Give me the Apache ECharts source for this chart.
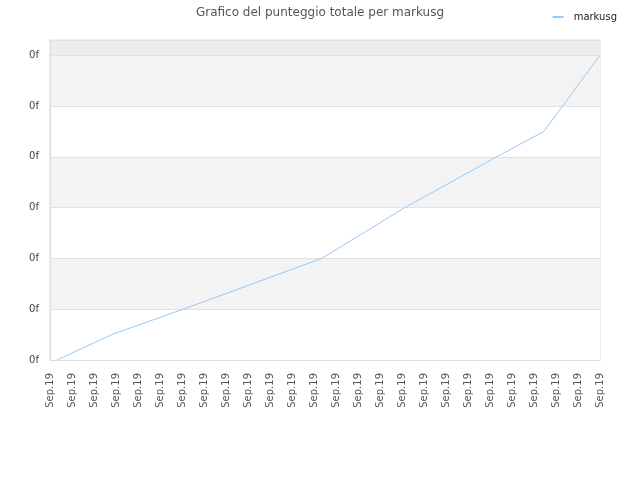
<!DOCTYPE html>
<html>
<head>
<meta charset="utf-8">
<script src="https://cdn.jsdelivr.net/npm/echarts@6/dist/echarts.min.js"></script>
<style>html,body{margin:0;padding:0;background:#fff}#c{width:640px;height:480px}</style>
</head>
<body>
<div id="c"></div>
<script>
// x positions of points (in tick units along the date axis) and total score values
var xPos   = [0.32, 2.86, 6.05, 12.36, 16.05, 20.3, 22.45, 25];
var scores = [0,    0.51, 1.0,  2.0,   2.98,  4.0,  4.5,   6.0];
var tickLabels = ['Sep.19','Sep.19','Sep.19','Sep.19','Sep.19','Sep.19','Sep.19','Sep.19','Sep.19','Sep.19',
                  'Sep.19','Sep.19','Sep.19','Sep.19','Sep.19','Sep.19','Sep.19','Sep.19','Sep.19','Sep.19',
                  'Sep.19','Sep.19','Sep.19','Sep.19','Sep.19','Sep.19'];
var yLabel = '0f';
var seriesName = 'markusg';

var chart = echarts.init(document.getElementById('c'), null, {renderer: 'canvas'});
var font = 'DejaVu Sans';
chart.setOption({
  animation: false,
  backgroundColor: '#fff',
  title: {
    text: 'Grafico del punteggio totale per markusg',
    left: 'center', top: 2,
    textStyle: {fontFamily: font, fontSize: 12, fontWeight: 'normal', color: '#555'}
  },
  legend: {
    right: 18, top: 7,
    icon: 'rect', itemWidth: 11, itemHeight: 2, itemGap: 5,
    textStyle: {fontFamily: font, fontSize: 10, color: '#222', padding: [0, 0, 0, 5]},
    data: [seriesName]
  },
  grid: {left: 50, right: 40, top: 40, bottom: 120, show: true, borderColor: '#ddd', borderWidth: 1},
  xAxis: {
    type: 'value', min: 0, max: 25, interval: 1,
    axisLine: {show: true, lineStyle: {color: '#ddd'}},
    axisTick: {show: false},
    splitLine: {show: false},
    axisLabel: {
      rotate: 90, margin: 13, fontFamily: font, fontSize: 10, color: '#555',
      formatter: function (v) { return tickLabels[Math.round(v)] || ''; }
    }
  },
  yAxis: {
    type: 'value', min: 0, max: 6.3, interval: 1,
    axisLine: {show: true, lineStyle: {color: '#ddd'}},
    axisTick: {show: false},
    splitLine: {show: true, lineStyle: {color: '#e2e2e2'}},
    splitArea: {show: true, areaStyle: {color: ['#ffffff','#f3f3f3','#ffffff','#f3f3f3','#ffffff','#f3f3f3','#ededed']}},
    axisLabel: {
      margin: 11, fontFamily: font, fontSize: 10, color: '#444', showMaxLabel: false,
      formatter: function () { return yLabel; }
    }
  },
  series: [{
    name: seriesName, type: 'line',
    data: xPos.map(function (x, i) { return [x, scores[i]]; }),
    showSymbol: false, symbol: 'none',
    lineStyle: {color: '#99c9f7', width: 1},
    itemStyle: {color: '#99c9f7'}
  }]
});
</script>
</body>
</html>
